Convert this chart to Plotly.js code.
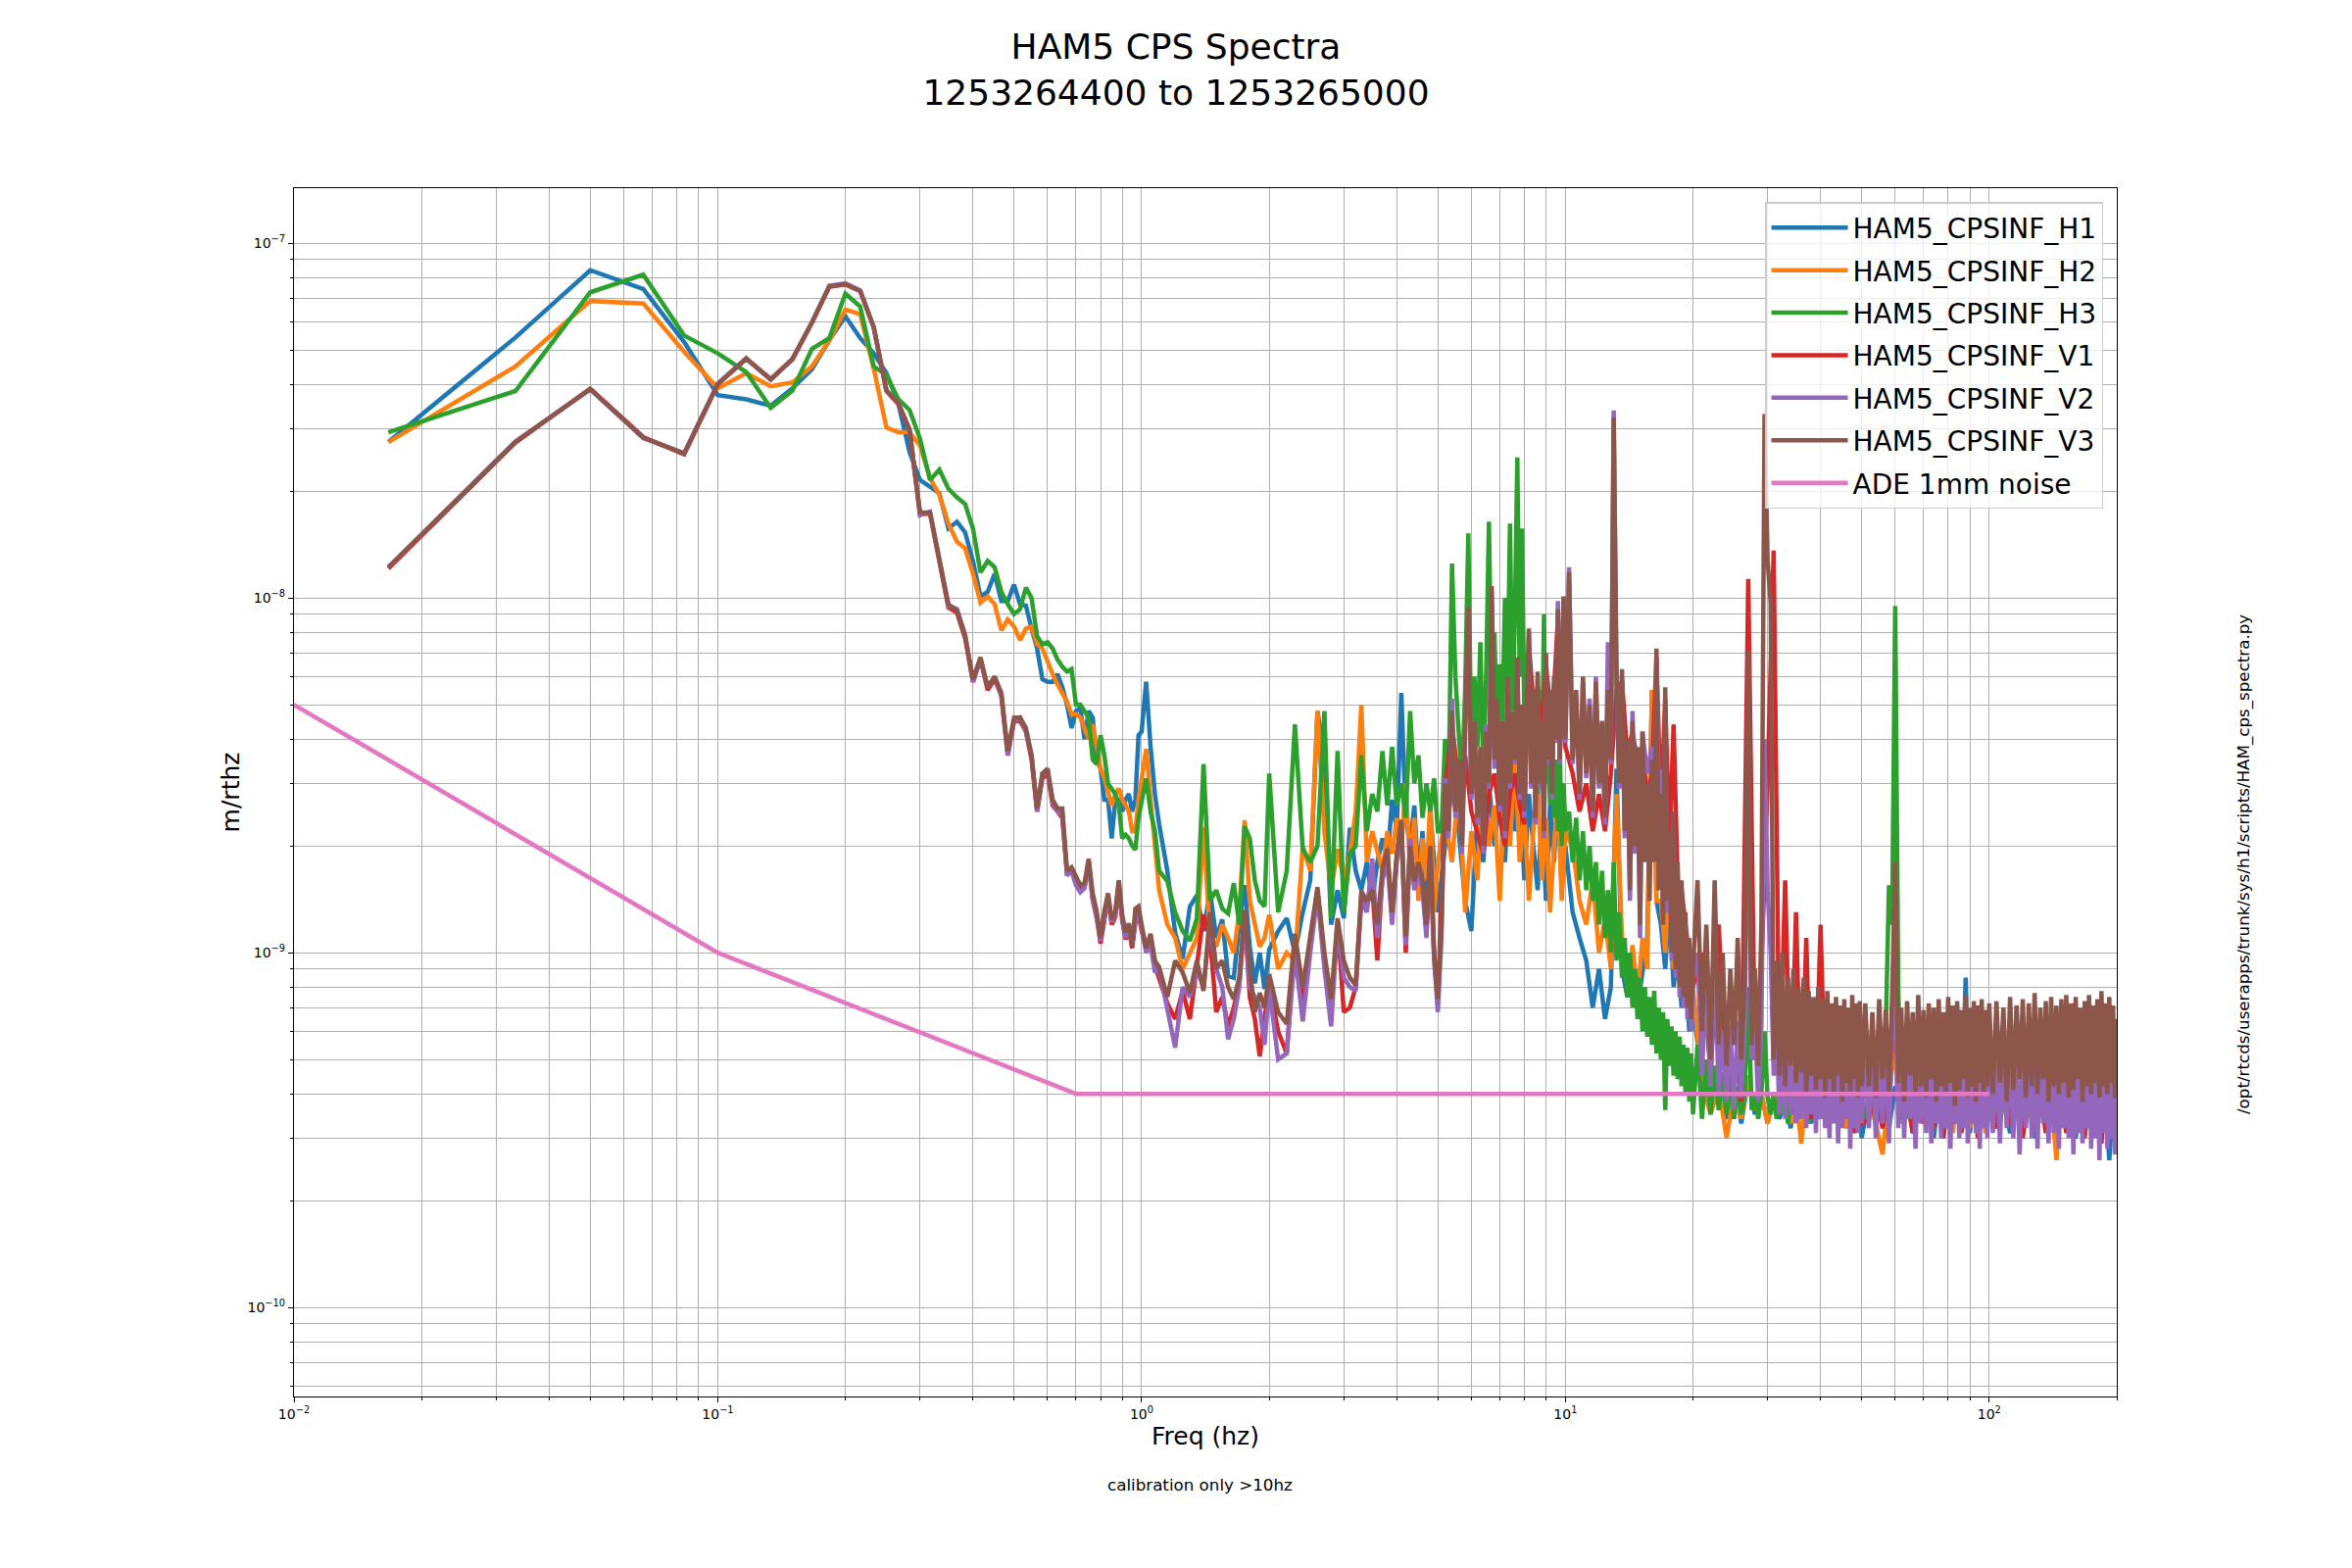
<!DOCTYPE html>
<html><head><meta charset="utf-8">
<script src="https://cdn.plot.ly/plotly-3.0.1.min.js"></script>
<style>html,body{margin:0;padding:0;background:#fff}#chart{width:2400px;height:1600px}</style>
</head><body><div id="chart"></div>
<script>
// ---------- Frequencies (Hz) ----------
const freqLow = [0.0167,0.0333,0.05,0.0667,0.0833,0.1,0.1167,0.1333,0.15,0.1667,0.1833,0.2,0.2167,0.2333,0.25,0.2667,0.2833,0.3,0.3167,0.3333,0.35,0.3667,0.3833,0.4,0.4167,0.4333,0.45,0.4667,0.4833,0.5,0.5167,0.5333,0.55,0.5667,0.5833,0.6,0.6167,0.6333,0.65,0.6667,0.6833,0.7,0.7167,0.7333,0.75,0.7667,0.7833,0.8,0.8167,0.8333,0.85,0.8667,0.8833,0.9,0.9167,0.9333,0.95,0.9667,0.9833,1.0];
const freqMid = [1.025,1.05,1.075,1.1,1.15,1.2,1.25,1.3,1.35,1.4,1.45,1.5,1.55,1.6,1.65,1.7,1.75,1.8,1.85,1.9,1.95,2.0,
2.1,2.2,2.3,2.4,2.5,2.6,2.7,2.8,2.9,3.0,3.1,3.2,3.3,3.4,3.5,3.6,3.7,3.8,3.9,4.0,4.1,4.2,4.3,4.4,4.5,4.6,4.7,4.8,4.9,5.0];
const freqSparse = [5.2,5.4,5.6,5.8,6.0,6.2,6.4,6.6,6.8,7.0,7.2,7.4,7.6,7.8,8.0,8.2,8.4,8.6,8.8,9.0,9.2,9.4,9.6,9.8,10,
10.4,10.8,11.2,11.6,12,12.4,12.8,13.2,13.6,14,14.4,14.8,15.2,15.6,16,16.4,16.8,17.2,17.6,18,18.4,18.8,19.2,19.6,20,
21,22,23,24,25,26,27,28,29,30,31,32,33,34,35,36,37,38,39,40,41,42,43,44,45,46,47,48,49,50,
52,54,56,58,60,62,64,66,68,70,72,74,76,78,80,82,84,86,88,90,92,94,96,98,100,
104,108,112,116,120,124,128,132,136,140,144,148,152,156,160,164,168,172,176,180,184,188,192,196,200];
const freqDense = [5.1,5.2,5.3,5.4,5.5,5.6,5.7,5.8,5.9,6.0,6.1,6.2,6.3,6.4,6.5,6.6,6.7,6.8,6.9,7.0,7.1,7.2,7.3,7.4,7.5,7.6,7.7,7.8,7.9,8.0,8.1,8.2,8.3,8.4,8.5,8.6,8.7,8.8,8.9,9.0,9.1,9.2,9.3,9.4,9.5,9.6,9.7,9.8,9.9,10.0,
10.2,10.4,10.6,10.8,11,11.2,11.4,11.6,11.8,12,12.2,12.4,12.6,12.8,13,13.2,13.4,13.6,13.8,14,14.2,14.4,14.6,14.8,15,15.2,15.4,15.6,15.8,16,16.2,16.4,16.6,16.8,17,17.2,17.4,17.6,17.8,18,18.2,18.4,18.6,18.8,19,19.2,19.4,19.6,19.8,20,
20.5,21,21.5,22,22.5,23,23.5,24,24.5,25,25.5,26,26.5,27,27.5,28,28.5,29,29.5,30,30.5,31,31.5,32,32.5,33,33.5,34,34.5,35,35.5,36,36.5,37,37.5,38,38.5,39,39.5,40,40.5,41,41.5,42,42.5,43,43.5,44,44.5,45,45.5,46,46.5,47,47.5,48,48.5,49,49.5,50,
51,52,53,54,55,56,57,58,59,60,61,62,63,64,65,66,67,68,69,70,71,72,73,74,75,76,77,78,79,80,81,82,83,84,85,86,87,88,89,90,91,92,93,94,95,96,97,98,99,100,
102,104,106,108,110,112,114,116,118,120,122,124,126,128,130,132,134,136,138,140,142,144,146,148,150,152,154,156,158,160,162,164,166,168,170,172,174,176,178,180,182,184,186,188,190,192,194,196,198,200];

// ---------- Amplitudes, in units of 1e-10 m/rthz ----------
const h1Low = [275,542,839,743,526, 373,363,348,390,441, 533,622,540,489,430, 353,258,215,206,197, 157,164,153,127,101, 104,117,98,98,109, 96,95,82,72,59, 58,58,61,56,50, 43,48,49,40,48, 46,35,33,27,27, 21,27,27,25,27, 28,25,27,41,42];
const h1Mid = [58,38,28,23,17, 11.4,9.6,13.5,14.5,11.5, 14.9,11,12.4,8.6,8.5, 12,15.5,10.4,8.2,10, 7.9,10.2,
11.5,12.5,10,13,16, 48,35,12,15,12.5, 22.5,17,15,18,14, 18,21,18,27,22, 54,24,20,26,16, 22,14,25,18,13];
const h1Sparse = [20,30,22,14,11.5, 25,18,30,20,28, 18,35,22,30,16, 28,20,15,24,14, 26,18,30,15,20,
13,11,9.5,7,9, 6.5,8,33,9,7.5, 8.5,7,9,11,55, 14,12,9,14,8, 10,7,9,6,7,
4.5,3.6,4.2,3.4,4.3, 3.3,4.4,3.5,4.0,3.3, 4.0,3.4,3.9,3.2,4.0, 3.5,4.0,3.3,3.9,3.4, 7.3,3.6,3.9,3.3,4.0, 3.2,3.9,3.4,4.0,3.0,
3.9,3.3,4.0,3.2,4.2, 3.5,3.9,3.1,4.0,3.4, 3.9,3.0,4.0,3.3,3.9, 3.2,4.0,3.5,8.5,3.1, 3.9,3.3,4,3.2,3.9,
3.3,3.9,3.1,4.0,3.4, 3.9,3.0,4.0,3.3,3.9, 3.1,4,3.3,3.9,3.0, 4.0,3.2,3.9,3.3,4.0, 3.1,3.9,2.6,3.8,3.2];

const h2Low = [275,449,687,676,494, 390,430,395,405,449, 532,650,631,443,302, 293,293,269,218,195, 162,144,138,117,97, 101,96,81,87,83, 76,82,83,74,72, 66,61,57,54,51, 47,47,46,43,40, 44,38,33,31,28, 26,28,29,27,26, 25,22,22,27,31];
const h2Mid = [37.5,27,19.5,15,12, 11,9,10,11,22.6, 11,10.4,12,11,10, 13,23.6,14,12,10.4, 11,12.8,
9,10,9.5,20,17, 48,22,15,19.6,16, 19,25,50,18,22, 19,17,22,19,24, 20,30,17,24,14, 21,16,27,13,18];
const h2Sparse = [24,18,30,13,22, 16,35,20,26,14, 30,20,38,18,25, 14,22,30,16,24, 13,20,28,14,22,
19.8,14,12,16,10, 12.5,9,28,11,8, 10.5,7.5,11,9,55, 14,14,10,18,9, 12,7.5,10,6.5,8,
4.3,3.5,4.2,3.0,4.0, 3.4,4.5,3.6,4.0,3.3, 4.0,3.6,3.9,3.3,4.0, 2.9,4.0,3.4,3.9,3.5, 6.5,3.3,3.9,3.5,4.0, 3.2,3.9,3.5,4.0,3.3,
3.9,3.3,2.7,4.0,5.5, 3.3,3.9,3.2,4.0,3.3, 3.9,3.2,4.0,3.4,3.9, 3.1,4.0,3.3,7.5,3.2, 3.9,3.4,4.0,3.1,3.9,
3.2,4.0,3.3,3.9,3.1, 4.0,3.2,3.9,3.4,4.0, 2.6,3.9,3.2,4.0,3.1, 3.9,3.3,4.0,3.1,3.9, 3.3,4.0,3.0,3.9,2.9];

const h3Low = [293,383,727,815,549, 489,433,343,384,503, 540,721,663,449,425, 363,339,281,215,230, 203,192,184,157,118, 127,122,104,96,90, 93,107,100,78,74, 75,72,67,64,62, 63,50,50,48,46, 35,34,41,36,30, 29,28,26,21,21.5, 21,20,19.5,24,27];
const h3Mid = [31,25,22,17,15.9, 13,11.5,10.8,12.5,34, 14,15,13.3,12.9,15.7, 12,22.7,21,16,14, 13.5,32,
13,17,44,19.6,18, 20,48,12.5,37,13, 19,20,36,22,28, 25,37,26,38,26, 30,24,48,30,36, 24,30,25,31,22];
const h3Dense = [22,40,28,125,60,42,30,55,152,35, 60,38,75,32,60,164,50,80,40,65, 45,100,55,162,48,90,249,60,157,45, 70,38,60,32,50,28,55,30,90,30, 45,26,40,24,35,22,38,20,30,22,
25,18,24,16,22,15,20,14,18,12, 17,11,15,10,18,9.5,13,8.5,11,7.5, 10,7,9,6.5,8.5,6,8,5.8,7.5,5.5, 7.8,5.2,7,5,6.8,3.6,6.5,4.8,6.2,4.5, 6,4.4,5.8,4.2,5.5,4,5.4,3.8,5.2,3.5,
5.5,3.4,5,3.5,4.8,3.6,4.6,3.5,4.5,3.4, 4.2,3.5,4.0,8,3.6,4.0,3.4,4.0,6,3.9, 3.5,4.0,3.4,3.9,3.5,4.0,3.3,3.9,3.5,4.0, 3.4,3.9,3.6,4.0,3.3,3.9,3.4,4.0,3.5,3.9, 3.4,4.0,3.3,3.9,3.5,4.0,3.4,3.9,3.3,4.0, 3.5,3.9,3.4,4.0,3.3,3.9,3.5,4.0,3.4,3.9,
3.4,4.0,3.5,3.9,3.4,5,6,15.5,12,95, 8,3.5,4.0,3.4,3.9,3.3,4.0,3.5,3.9,3.4, 4.0,3.3,3.9,3.5,4.0,3.4,3.9,3.3,4.0,3.5, 3.9,3.4,4.0,3.3,3.9,3.5,4.0,3.4,3.9,3.3, 4.0,3.5,3.9,3.4,4.0,3.3,3.9,3.5,4.0,3.4,
3.4,4.0,3.3,3.9,3.5,4.0,3.3,3.9,3.4,4.0, 3.3,3.9,3.4,4.0,3.3,3.9,3.5,4.0,3.3,3.9, 3.4,4.0,3.3,3.9,3.4,4.0,3.3,3.9,3.5,4.0, 3.3,3.9,3.4,4.0,3.3,3.9,3.4,4.0,3.3,3.9, 3.5,4.0,3.3,3.9,3.4,4.0,3.3,3.9,3.4,3.6];

const v1Low = [121,274,389,284,254, 400,472,414,470,596, 754,765,733,579,383, 352,297,172,173,125, 94,91,77,58,67, 55,59,53,36,45, 45,42,35,25,31, 32,26,25,24,16.8, 17,15.8,15,15.3,18, 14.2,12.7,10.6,12.6,14.3, 12,12.6,15.5,12.3,10.9, 11.6,10.3,12.2,12.9,11.5];
const v1Mid = [10.5,11,9.2,8.5,7.2, 6.5,7.8,6.5,9.2,12.8, 11,6.8,7.5,6.2,7, 8.2,12.8,7.5,6.5,5.1, 6.5,8.2,
6,5.2,10.8,7,10.5, 15,9.5,6.8,12.2,6.8, 7,8,14.5,13.5,15.5, 9.5,16.5,19,12.5,18.5, 23,10,20.5,15.5,17.5, 15.5,11.5,19.5,9.8,7.2];
const v1Sparse = [28,44,30,36,25, 22,19,28,32,24, 20,28,32,26,23, 75,50,56,40,64, 50,55,88,50,38,
32,25,30,22,28, 22,32,55,58,36, 42,34,38,27,32, 68,25,52,20,44, 16,15,12,10,8,
10,4.5,12,4,7, 3.8,113,5,9,30, 136,4.2,16,3.6,13, 3.5,11,3.4,4.1,12, 4.0,3.5,4.1,3.3,4.0, 3.4,4.1,3.1,4.0,3.3,
3.4,4.0,3.2,4.1,7, 3.4,4.0,3.1,4.1,3.3, 4.0,3.2,4.1,3.0,4.0, 3.3,4.1,3.1,4.0,3.4, 4.1,3.0,4.0,3.3,4.1,
3.2,4.1,3.3,4.0,3.0, 4.1,3.2,4.0,3.1,4.1, 3.3,4.0,3.1,4.1,3.2, 4.0,3.0,4.1,3.3,4.0, 2.9,4.1,3.2,4.0,3.1];

const v2Low = [122,276,387,282,256, 402,474,412,472,598, 758,770,736,578,385, 354,299,171,175,126, 95,93,79,58,67, 56,60,53,36,45, 46,42,36,25,32, 32.5,26.5,25,24.5,16.5, 17,15.5,14.8,15.2,17.8, 14,12.5,10.8,12.8,14.5, 12.2,12.8,15.8,12.5,11, 11.8,10.5,12.3,13,11.8];
const v2Mid = [10,10.5,8.8,9,7, 5.4,8,7.5,9,8, 12,9,8,5.7,6.5, 8,12.5,8,7.5,7, 5.5,8,
5,5.2,10,6.4,10, 14.5,9,6.2,12,8.5, 8,7.8,14,13,18.4, 11,16,18,12,18, 22,10.5,21,15,17, 15,11,19,9.5,6.8];
const v2Dense = [11,31,21,52,24,33,19,42,90,27, 43,23,37,19,44,29,104,33,50,25, 44,21,58,29,47,34,66,27,49,24, 44,80,29,53,23,60,29,44,21,68, 34,53,27,58,39,98,34,53,99,39,
122,34,53,27,58,31,52,24,60,29, 44,23,75,34,338,58,29,60,21,39, 14,48,19,37,11,42,37,32,35,38, 30,68,28,33,14,45,13,21,9.5,24, 8.5,17,7.5,15,7,12,6.5,10.5,6,8.5,
10,4.5,9,4.2,10,4,6,3.8,6.2,3.6, 6.4,3.9,6.3,40,5,6.4,3.8,6.2,40,15, 10,4.5,6.2,3.5,6,3.4,5.8,3.5,5.6,3.3, 5.5,3.4,5.8,3.2,5.4,3.5,5.5,3.1,5.3,3.4, 5.6,3.2,5.2,3.0,5.5,3.3,5.2,2.9,5.4,3.2, 5.1,3.4,5.5,2.8,5.3,3.2,5.2,3.1,5.4,3.3,
5.2,3.2,5.4,3.0,5.1,3.3,5.5,2.9,6,8, 3.2,5.3,3.0,5.2,3.4,5.5,2.8,5.1,3.3,5.4, 3.1,5.2,2.9,5.5,3.3,5.1,3.0,5.4,3.2,5.2, 2.8,5.5,3.3,5.1,3.0,5.3,3.2,5.6,2.9,5.2, 3.3,5.4,3.1,5.1,2.8,5.3,3.2,5.5,3.0,5.2,
3.1,5.4,2.9,5.2,3.2,5.5,3.0,5.1,2.7,5.3, 3.2,5.4,3.0,5.2,2.8,5.5,3.3,5.1,2.9,5.3, 3.1,5.4,2.8,5.2,3.2,5.5,3.0,5.1,2.7,5.3, 3.1,5.4,2.9,5.2,3.2,5.5,2.8,5.1,3.0,5.3, 2.6,5.4,3.1,5.2,2.8,5.5,3.0,5.1,2.7,4.8];

const v3Low = [122,275,388,283,255, 401,473,413,471,597, 755,766,734,580,384, 353,298,174,174,127, 96,92,78,59,68, 56,60,54,37,46, 46,43,36,25.5,32, 33,27,25.5,25.5,17, 17.4,16.4,15.5,15.7,18.4, 14.7,13.1,11,13.1,14.7, 12.4,13.1,16,12.8,11.4, 12.1,10.5,13.3,13.5,12];
const v3Mid = [10.3,11.3,9.5,9.1,7.5, 9.5,8.8,7.7,9.5,7.8, 13,9,9.5,8,7.4, 8.5,13.2,9,6.8,7.7, 7,8.7,
6.8,6.3,11.3,8,11, 15.3,10,7.4,12.5,9.5, 8.5,8.1,14.9,14,15, 12,17.2,19.6,13,19, 23.7,11.1,20,15.9,18, 16,12,20,10,7.4];
const v3Dense = [12,30,22,48,25,35,20,40,94,28, 45,24,38,20,42,30,108,35,52,26, 45,22,60,30,48,35,68,28,50,25, 45,82,30,55,24,62,30,45,22,70, 35,55,28,60,40,93,35,55,101,40,
118,35,55,28,60,32,50,25,58,30, 45,24,55,35,323,60,30,63,22,40, 15,45,20,38,12,42,18,30,14,35, 18,72,15,28,12,56,14,22,10,25, 9,18,8,16,7.5,13,7,11,6.5,9,
16,6,12,5,16,5.5,10,4.8,9,5.5, 11,5,8.5,71,5.5,9,4.8,12,330,127, 97,5,9.5,4.5,10,4.2,8.5,4.8,9,4.3, 8,4.6,8.5,4,7.8,4.5,7.5,4.1,8,4.4, 7.4,3.9,7.8,4.4,7.2,4,7.5,4.5,7.1,3.8, 7.4,4.3,7,4,7.6,4.4,7.2,3.9,7.3,4.2,
7.2,4.2,6.8,3.9,7.4,4.4,6.9,4,7.5,18, 4.3,7,3.8,7.3,4.5,6.8,4,7.6,4.2,6.9, 3.9,7.2,4.4,7,3.8,7.4,4.2,6.8,4,7.5, 4.3,7.1,3.7,7.3,4.1,6.9,4.4,7.6,3.9,7, 4.2,7.3,3.8,7.1,4.3,7.4,4,6.9,4.2,7.2,
4,7.3,4.3,7,3.8,7.5,4.1,7.1,4.4,7.4, 3.9,7.2,4.2,7.7,4,7,4.4,7.3,3.8,7.5, 4.2,7.1,4,7.4,4.3,7.6,3.9,7.2,4.1,7.5, 4.4,7,3.8,7.3,4.2,7.6,4,7.1,4.3,7.4, 3.9,7.8,4.2,7.2,4,7.5,4.3,7.1,3.9,6.5];

const adeFreq = [0.01, 0.1, 0.7, 100];
const adeVal = [50, 10, 4, 4];

const xTickVals = [0.01, 0.1, 1, 10, 100];
const xTickText = ['10<sup>\u22122</sup>','10<sup>\u22121</sup>','10<sup>0</sup>','10<sup>1</sup>','10<sup>2</sup>'];
const yTickVals = [1e-10, 1e-9, 1e-8, 1e-7];
const yTickText = ['10<sup>\u221210</sup>','10<sup>\u22129</sup>','10<sup>\u22128</sup>','10<sup>\u22127</sup>'];

const seriesNames = ['HAM5_CPSINF_H1','HAM5_CPSINF_H2','HAM5_CPSINF_H3','HAM5_CPSINF_V1','HAM5_CPSINF_V2','HAM5_CPSINF_V3','ADE 1mm noise'];
const seriesColors = ['#1f77b4','#ff7f0e','#2ca02c','#d62728','#9467bd','#8c564b','#e377c2'];

// ---------- assemble ----------
const sparseX = freqLow.concat(freqMid, freqSparse);
const denseX = freqLow.concat(freqMid, freqDense);
const defs = [
  [h1Low,h1Mid,h1Sparse,sparseX],[h2Low,h2Mid,h2Sparse,sparseX],[h3Low,h3Mid,h3Dense,denseX],
  [v1Low,v1Mid,v1Sparse,sparseX],[v2Low,v2Mid,v2Dense,denseX],[v3Low,v3Mid,v3Dense,denseX]];
const UNIT = 1e-10;
const traces = defs.map((d,i)=>{
  const y = d[0].concat(d[1], d[2]);
  if (y.length !== d[3].length) throw new Error('length mismatch series '+i);
  return {type:'scatter', mode:'lines', name:seriesNames[i], legendgroup:'g'+i, x:d[3], y:y.map(v=>v*UNIT), line:{color:seriesColors[i], width:4.5}};
});
traces.push({type:'scatter', mode:'lines', name:seriesNames[6], legendgroup:'g6', x:adeFreq, y:adeVal.map(v=>v*UNIT), line:{color:seriesColors[6], width:4.5}});

function minorVals(lo, hi){ const out=[]; for(let e=lo;e<=hi;e++){ for(let m=2;m<=9;m++){ out.push(m*Math.pow(10,e)); } } return out; }

const FONT = 'DejaVu Sans, Verdana, sans-serif';
const gridC = '#b0b0b0';
function axisBase(tv, tt, mv){
  return {type:'log', tickmode:'array', tickvals:tv, ticktext:tt,
    tickfont:{size:14, family:FONT, color:'#000'}, ticks:'outside', ticklen:5, tickwidth:1.1, tickcolor:'#000',
    showline:true, linecolor:'#000', linewidth:1.3, mirror:true,
    showgrid:true, gridcolor:gridC, gridwidth:1.2, zeroline:false,
    minor:{tickmode:'array', tickvals:mv, showgrid:true, gridcolor:gridC, gridwidth:1.2, ticks:'outside', ticklen:3, tickcolor:'#000', tickwidth:0.9}};
}
const xaxis = Object.assign(axisBase(xTickVals, xTickText, minorVals(-2,2)), {range:[-2, Math.log10(200)], title:{text:'Freq (hz)', font:{size:25, family:FONT}, standoff:6}});
const yaxis = Object.assign(axisBase(yTickVals, yTickText, minorVals(-11,-7)), {range:[-10.251, -6.845], title:{text:'m/rthz', font:{size:25, family:FONT}, standoff:0}});

const layout = {
  width:2400, height:1600,
  margin:{l:300, r:240, t:192, b:175, pad:0},
  paper_bgcolor:'#ffffff', plot_bgcolor:'#ffffff',
  font:{family:FONT, color:'#000'},
  title:{text:'HAM5 CPS Spectra<br>1253264400 to 1253265000', font:{size:36, family:FONT}, x:0.5, xref:'container', xanchor:'center', y:1-60/1600, yref:'container', yanchor:'middle'},
  xaxis:xaxis, yaxis:yaxis,
  showlegend:true,
  legend:{x:0.9925, xanchor:'right', y:0.9886, yanchor:'top', font:{size:28, family:FONT}, bgcolor:'rgba(255,255,255,0.8)', bordercolor:'#cccccc', borderwidth:1.5, tracegroupgap:4, itemwidth:78},
  annotations:[
    {text:'calibration only >10hz', xref:'paper', yref:'paper', x:0.497, y:(1425-1515)/1233, xanchor:'center', yanchor:'middle', showarrow:false, font:{size:16.7, family:FONT}},
    {text:'/opt/rtcds/userapps/trunk/sys/h1/scripts/HAM_cps_spectra.py', xref:'paper', yref:'paper', x:(2289-300)/1860, y:(1425-882)/1233, xanchor:'center', yanchor:'middle', textangle:-90, showarrow:false, font:{size:16.7, family:FONT}}
  ],
  hovermode:false
};
Plotly.newPlot('chart', traces, layout, {displayModeBar:false, responsive:false});
</script></body></html>
